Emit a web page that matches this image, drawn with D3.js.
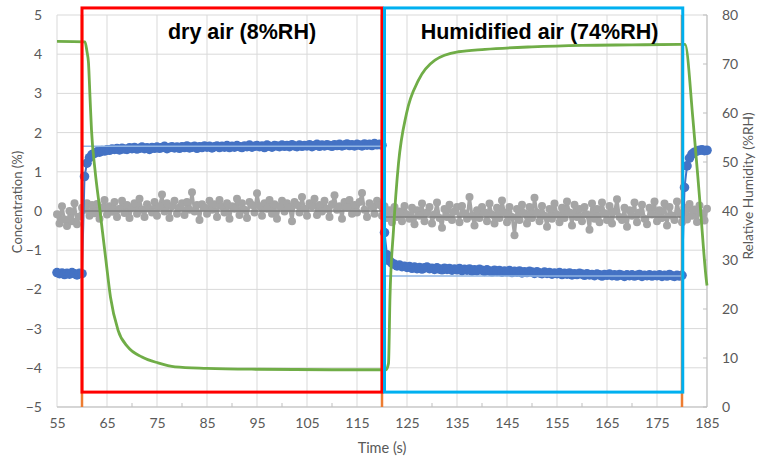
<!DOCTYPE html>
<head>
  <meta charset="utf-8">
  <script src="https://d3js.org/d3.v7.min.js"></script>
  <style>
    body { margin: 0; background: #fff; }
    text { font-family: 'Lato', sans-serif; }
    .tick text { fill: #595959; font-size: 14px; }
    .axis-title { fill: #595959; font-size: 13px; }
    .title { font-family: 'Liberation Sans', Arial, sans-serif; font-weight: bold; font-size: 21.5px; fill: #000; }
  </style>
</head>
<body>
  <div id="chart"></div>
  <script>
    // samples every 0.5 s starting at 55 s
    var sampleStart = 55, sampleStep = 0.5;

    // concentration (%), blue series
    var blueConc = [
      -1.57,-1.60,-1.58,-1.62,-1.59,-1.61,-1.57,-1.60,-1.63,-1.59,
      -1.60,
      0.88,1.22,1.36,1.44,1.47,1.51,1.50,1.54,1.53,1.56,
      1.55,1.58,1.57,1.59,1.56,1.60,1.58,1.57,1.61,1.59,
      1.62,1.58,1.60,1.63,1.59,1.61,1.57,1.62,1.60,1.63,
      1.60,1.62,1.65,1.59,1.62,1.64,1.61,1.63,1.60,1.64,
      1.62,1.66,1.61,1.63,1.65,1.60,1.64,1.62,1.66,1.63,
      1.65,1.61,1.64,1.66,1.62,1.65,1.63,1.67,1.62,1.65,
      1.63,1.67,1.64,1.62,1.66,1.64,1.68,1.63,1.65,1.67,
      1.64,1.66,1.62,1.68,1.65,1.63,1.67,1.66,1.64,1.68,
      1.65,1.67,1.64,1.69,1.66,1.64,1.68,1.65,1.67,1.66,
      1.69,1.64,1.67,1.70,1.65,1.68,1.66,1.69,1.67,1.65,
      1.69,1.67,1.70,1.66,1.68,1.71,1.67,1.69,1.66,1.70,
      1.68,1.66,1.71,1.68,1.70,1.67,1.72,1.69,1.70,1.68,
      -0.55,-1.12,-1.27,-1.33,-1.36,-1.40,-1.38,-1.42,-1.41,
      -1.44,-1.42,-1.46,-1.43,-1.47,-1.44,-1.48,-1.45,-1.43,-1.47,
      -1.46,-1.49,-1.45,-1.48,-1.50,-1.46,-1.49,-1.47,-1.51,-1.48,
      -1.50,-1.47,-1.52,-1.49,-1.51,-1.48,-1.53,-1.50,-1.52,-1.49,
      -1.51,-1.54,-1.50,-1.53,-1.55,-1.51,-1.54,-1.52,-1.56,-1.53,
      -1.55,-1.52,-1.57,-1.54,-1.56,-1.53,-1.58,-1.55,-1.57,-1.54,
      -1.56,-1.59,-1.55,-1.58,-1.60,-1.56,-1.59,-1.57,-1.61,-1.58,
      -1.60,-1.57,-1.62,-1.59,-1.61,-1.58,-1.63,-1.60,-1.62,-1.59,
      -1.61,-1.64,-1.60,-1.63,-1.62,-1.65,-1.61,-1.63,-1.66,-1.62,
      -1.64,-1.61,-1.65,-1.63,-1.66,-1.62,-1.64,-1.67,-1.63,-1.65,
      -1.63,-1.66,-1.64,-1.62,-1.67,-1.64,-1.65,-1.63,-1.66,-1.64,
      -1.65,-1.63,-1.67,-1.64,-1.66,-1.62,-1.65,-1.67,-1.64,-1.66,
      -1.64,
      0.60,1.15,1.35,1.45,1.50,1.53,1.55,1.56,1.54,1.55
    ];

    // concentration (%), grey series
    var greyConc = [
      -0.08,-0.32,0.12,-0.22,-0.38,0.00,-0.26,0.20,-0.34,-0.14,
      0.08,
      0.03,0.20,-0.12,0.15,-0.06,0.18,-0.20,0.09,0.28,-0.09,
      0.12,-0.02,0.23,-0.15,0.06,0.26,-0.05,0.15,-0.18,0.09,
      0.20,-0.07,0.31,0.03,-0.15,0.17,0.06,-0.04,0.23,-0.12,
      0.12,0.42,-0.01,0.20,-0.18,0.12,0.26,-0.07,0.09,0.20,
      -0.10,0.23,0.03,0.48,-0.01,0.15,-0.23,0.17,0.09,-0.07,
      0.26,0.03,0.17,-0.15,0.28,0.12,-0.04,0.20,-0.20,0.12,
      0.06,0.31,-0.10,0.20,0.03,-0.18,0.23,0.15,-0.04,0.45,
      0.12,-0.12,0.20,0.06,0.28,-0.07,0.17,-0.20,0.12,0.26,
      -0.01,0.20,0.09,-0.26,0.23,0.15,-0.04,0.36,0.06,-0.12,
      0.20,0.12,0.31,-0.10,0.15,-0.01,0.26,0.06,-0.15,0.17,
      0.40,0.03,0.12,-0.20,0.23,0.09,0.28,-0.07,0.15,-0.04,
      0.23,0.46,0.03,-0.15,0.20,0.12,-0.07,0.26,0.15,-0.12,
      0.12,-0.18,0.02,-0.29,0.10,-0.15,-0.01,-0.26,0.13,-0.09,
      -0.20,0.08,-0.34,0.02,-0.12,0.19,-0.26,-0.04,0.10,-0.32,
      -0.09,0.22,-0.18,-0.43,0.05,-0.15,0.16,-0.23,-0.01,0.10,
      -0.29,0.13,-0.06,-0.20,0.36,-0.12,-0.37,0.02,-0.18,0.10,
      -0.04,-0.26,0.19,-0.09,-0.32,0.08,-0.18,0.27,-0.04,-0.29,
      0.10,-0.15,-0.62,0.05,-0.23,0.16,-0.06,-0.32,0.10,-0.18,
      0.34,-0.04,-0.26,0.13,-0.12,-0.40,0.05,-0.20,0.19,-0.09,
      -0.29,0.08,-0.18,0.24,-0.04,-0.37,0.16,-0.15,0.05,-0.26,
      0.10,-0.09,-0.48,0.19,-0.20,0.05,-0.29,0.22,-0.06,-0.23,
      0.13,-0.32,-0.01,0.30,-0.15,-0.23,0.08,-0.40,0.02,-0.12,
      0.22,-0.29,-0.04,0.16,-0.20,-0.34,0.08,-0.09,0.24,-0.26,
      0.02,-0.18,0.19,-0.37,0.10,-0.12,-0.23,0.24,-0.06,-0.29,
      0.08,-0.22,0.18,-0.12,0.04,-0.28,0.14,-0.06,-0.24,0.06
    ];

    // relative humidity (%RH), green line
    var rhTime = [55, 60.6, 61.0, 61.3, 61.6, 61.9, 62.6, 63.6, 64.8, 65.7, 67.2, 69.2, 72, 75.2, 78.6, 85, 95, 110, 120.8,
      121.3, 121.6, 122.3, 123.3, 124.9, 127.3, 130.6, 135.3, 140.6, 150, 160, 170, 180.6, 182.2, 183.6, 184.9, 185];
    var rhValue = [74.6, 74.5, 72.5, 70.2, 63.3, 56.5, 48.4, 40.0, 29.8, 22.4, 15.7, 12.2, 10.2, 9.0, 8.2, 7.9, 7.7, 7.6, 7.6,
      8.9, 22.5, 36.1, 49.7, 59.9, 66.7, 70.8, 72.5, 73.0, 73.5, 73.8, 73.9, 74.0, 58.6, 41.6, 25.6, 24.8];

    // mean levels
    var greyMeanTime = [60, 120, 120, 180];
    var greyMeanValue = [0.0, 0.0, -0.15, -0.15];
    var blueStepSegments = [[60, 120, 1.65], [120, 180, -1.66]];

    var switchTimes = [60, 120, 180];
    var xTicks = [55, 65, 75, 85, 95, 105, 115, 125, 135, 145, 155, 165, 175, 185];
    var xMinor = [60, 70, 80, 90, 100, 110, 120, 130, 140, 150, 160, 170, 180];
    var yTicks = [-5, -4, -3, -2, -1, 0, 1, 2, 3, 4, 5];
    var rhTicks = [0, 10, 20, 30, 40, 50, 60, 70, 80];

    var W = 759, H = 459;
    var margin = {top: 15, right: 52, bottom: 52, left: 57};
    var width = W - margin.left - margin.right,
        height = H - margin.top - margin.bottom;

    var svg = d3.select("#chart").append("svg")
      .attr("width", W).attr("height", H);
    var g = svg.append("g")
      .attr("transform", "translate(" + margin.left + "," + margin.top + ")");

    var x = d3.scaleLinear().domain([55, 185]).range([0, width]);
    var y = d3.scaleLinear().domain([-5, 5]).range([height, 0]);
    var yR = d3.scaleLinear().domain([0, 80]).range([height, 0]);

    // grid
    g.append("g").selectAll("line").data(yTicks).enter().append("line")
      .attr("x1", 0).attr("x2", width)
      .attr("y1", d => y(d)).attr("y2", d => y(d))
      .attr("stroke", "#d9d9d9").attr("stroke-width", 1);
    g.append("g").selectAll("line").data(xTicks).enter().append("line")
      .attr("x1", d => x(d)).attr("x2", d => x(d))
      .attr("y1", 0).attr("y2", height)
      .attr("stroke", "#d9d9d9").attr("stroke-width", 1);
    // minor ticks bottom / right
    g.append("g").selectAll("line").data(xMinor).enter().append("line")
      .attr("x1", d => x(d)).attr("x2", d => x(d))
      .attr("y1", height - 4).attr("y2", height)
      .attr("stroke", "#bfbfbf");
    g.append("g").selectAll("line").data(rhTicks).enter().append("line")
      .attr("x1", width - 4).attr("x2", width)
      .attr("y1", d => yR(d)).attr("y2", d => yR(d))
      .attr("stroke", "#bfbfbf");
    g.append("line").attr("x1", 0).attr("x2", width).attr("y1", height).attr("y2", height)
      .attr("stroke", "#bfbfbf");
    g.append("line").attr("x1", width).attr("x2", width).attr("y1", 0).attr("y2", height)
      .attr("stroke", "#bfbfbf");

    // axes (labels only)
    g.append("g").attr("transform", "translate(0," + height + ")")
      .call(d3.axisBottom(x).tickValues(xTicks).tickSize(0).tickPadding(11));
    g.append("g")
      .call(d3.axisLeft(y).tickValues(yTicks).tickSize(0).tickPadding(15).tickFormat(d3.format("d")));
    g.append("g").attr("transform", "translate(" + width + ",0)")
      .call(d3.axisRight(yR).tickValues(rhTicks).tickSize(0).tickPadding(15));
    g.selectAll(".domain").remove();

    // series data
    var greyData = greyConc.map((v, i) => [sampleStart + i * sampleStep, v]);
    var blueData = blueConc.map((v, i) => [sampleStart + i * sampleStep, v]);
    var rhData = rhTime.map((t, i) => [t, rhValue[i]]);

    var line = d3.line().x(d => x(d[0])).y(d => y(d[1]));
    var lineR = d3.line().x(d => x(d[0])).y(d => yR(d[1])).curve(d3.curveMonotoneX);

    // grey
    g.append("path").datum(greyData).attr("d", line)
      .attr("fill", "none").attr("stroke", "#a5a5a5").attr("stroke-width", 3)
      .attr("stroke-linejoin", "round");
    g.append("g").selectAll("circle").data(greyData).enter().append("circle")
      .attr("cx", d => x(d[0])).attr("cy", d => y(d[1])).attr("r", 4)
      .attr("fill", "#a5a5a5");
    g.append("path").datum(greyMeanTime.map((t, i) => [t, greyMeanValue[i]])).attr("d", line)
      .attr("fill", "none").attr("stroke", "#7f7f7f").attr("stroke-width", 1.5);

    // blue
    g.append("path").datum(blueData).attr("d", line)
      .attr("fill", "none").attr("stroke", "#4472c4").attr("stroke-width", 2);
    g.append("g").selectAll("circle").data(blueData).enter().append("circle")
      .attr("cx", d => x(d[0])).attr("cy", d => y(d[1])).attr("r", 4.8)
      .attr("fill", "#4472c4");
    g.append("g").selectAll("line").data(blueStepSegments).enter().append("line")
      .attr("x1", d => x(d[0])).attr("x2", d => x(d[1]))
      .attr("y1", d => y(d[2])).attr("y2", d => y(d[2]))
      .attr("stroke", "#8fb4e3").attr("stroke-width", 1.5);

    // green humidity
    g.append("path").datum(rhData).attr("d", lineR)
      .attr("fill", "none").attr("stroke", "#70ad47").attr("stroke-width", 2.8);

    // switching markers
    g.append("g").selectAll("line").data(switchTimes).enter().append("line")
      .attr("x1", d => x(d)).attr("x2", d => x(d))
      .attr("y1", 0).attr("y2", height)
      .attr("stroke", "#ed7d31").attr("stroke-width", 2.5);

    // phase boxes
    g.append("rect")
      .attr("x", x(60)).attr("y", y(5.18))
      .attr("width", x(120) - x(60)).attr("height", y(-4.62) - y(5.18))
      .attr("fill", "none").attr("stroke", "#ff0000").attr("stroke-width", 3);
    g.append("rect")
      .attr("x", x(120.5)).attr("y", y(5.18))
      .attr("width", x(180.15) - x(120.5)).attr("height", y(-4.62) - y(5.18))
      .attr("fill", "none").attr("stroke", "#00b0f0").attr("stroke-width", 3);

    g.append("text").attr("class", "title")
      .attr("x", x(92)).attr("y", 24).attr("text-anchor", "middle")
      .text("dry air (8%RH)");
    g.append("text").attr("class", "title")
      .attr("x", x(151.5)).attr("y", 24).attr("text-anchor", "middle")
      .text("Humidified air (74%RH)");

    // axis titles
    svg.append("text").attr("class", "axis-title")
      .attr("transform", "translate(22,202) rotate(-90)")
      .attr("text-anchor", "middle").text("Concentration (%)");
    svg.append("text").attr("class", "axis-title")
      .style("font-size", "13.7px")
      .attr("transform", "translate(753,186) rotate(-90)")
      .attr("text-anchor", "middle").text("Relative Humidity (%RH)");
    svg.append("text").attr("class", "axis-title")
      .style("font-size", "14.5px")
      .attr("x", 382).attr("y", 453)
      .attr("text-anchor", "middle").text("Time (s)");
  </script>
</body>
